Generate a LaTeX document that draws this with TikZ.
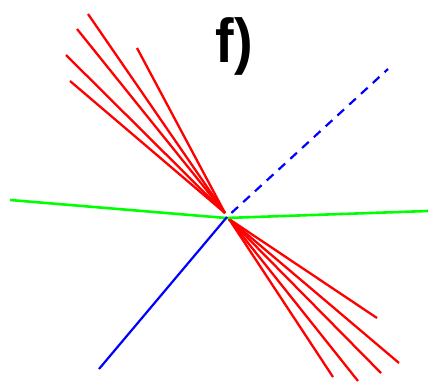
\documentclass[tikz,border=0pt]{standalone}
\usepackage{fontspec}
\setmainfont{Liberation Sans}
\usepackage{tikz}
\definecolor{trackred}{RGB}{255,0,0}
\definecolor{planegreen}{RGB}{0,255,0}
\definecolor{axisblue}{RGB}{0,0,255}
\tikzset{
  jetline/.style={draw=trackred,line width=2.3pt},
  planeline/.style={draw=planegreen,line width=2.6pt},
  axisline/.style={draw=axisblue,line width=2.2pt},
  axisdash/.style={axisline,dash pattern=on 9pt off 7pt,dash phase=-6pt},
  panellabel/.style={font=\fontsize{62}{62}\selectfont\bfseries,inner sep=0pt}
}

\begin{document}
\begin{tikzpicture}[x=1pt,y=-1pt]
  \useasboundingbox (0,0) rectangle (428,383);
  \coordinate (vtop) at (225,213);
  \coordinate (vbot) at (229,219);
  \coordinate (vmid) at (227,217);
  \coordinate (gl) at (10,200);
  \coordinate (gc) at (226,218);
  \coordinate (gr) at (428,211);
  \coordinate (blo) at (99,369);
  \coordinate (bhi) at (388,69);
  % upper and lower fans
  \foreach \px/\py in {88/14,77/29,66/55,70/81,137/48}
    \draw[jetline] (vtop) -- (\px,\py);
  \foreach \px/\py in {377/318,399/363,381/373,358/381,333/377}
    \draw[jetline] (vbot) -- (\px,\py);
  \draw[planeline] (gl) -- (gc) -- (gr);
  \draw[axisline] (blo) -- (vmid);
  \draw[axisdash] (vmid) -- (bhi);
  \node[panellabel,xscale=0.9] (lbl) at (234,46) {f)};
\end{tikzpicture}
\end{document}
